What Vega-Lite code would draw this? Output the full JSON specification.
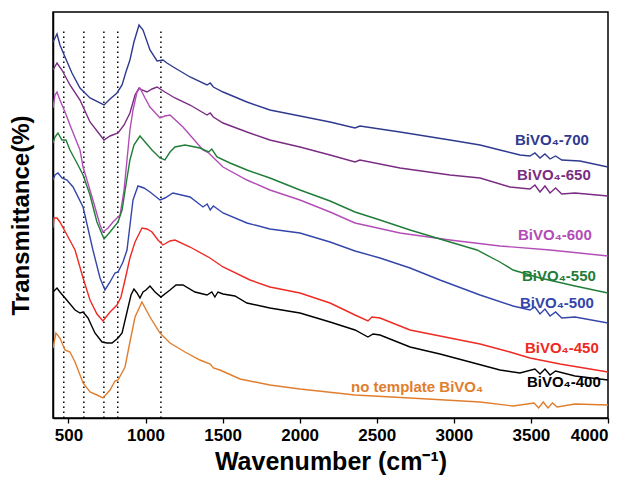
{
  "$schema": "https://vega.github.io/schema/vega-lite/v6.json",
  "width": 555,
  "height": 406,
  "autosize": {"type": "none"},
  "padding": {"left": 53, "top": 12, "right": 22, "bottom": 68},
  "background": "white",
  "config": {
    "view": {"stroke": "black", "strokeWidth": 1.5},
    "font": "Liberation Sans"
  },
  "datasets": {
    "spectra": [
      {"s":"700","x":400,"y":376},{"s":"700","x":426,"y":384},{"s":"700","x":445,"y":373},{"s":"700","x":478,"y":361},{"s":"700","x":523,"y":345},{"s":"700","x":575,"y":330},{"s":"700","x":640,"y":320},{"s":"700","x":731,"y":313},{"s":"700","x":770,"y":319},{"s":"700","x":815,"y":325},{"s":"700","x":848,"y":333},{"s":"700","x":873,"y":346},{"s":"700","x":899,"y":358},{"s":"700","x":925,"y":376},{"s":"700","x":958,"y":393},{"s":"700","x":984,"y":388},{"s":"700","x":1029,"y":368},{"s":"700","x":1075,"y":357},{"s":"700","x":1113,"y":358},{"s":"700","x":1139,"y":355},{"s":"700","x":1191,"y":350},{"s":"700","x":1289,"y":341},{"s":"700","x":1399,"y":333},{"s":"700","x":1420,"y":335},{"s":"700","x":1440,"y":331},{"s":"700","x":1503,"y":326},{"s":"700","x":1658,"y":316},{"s":"700","x":1807,"y":308},{"s":"700","x":2002,"y":302},{"s":"700","x":2197,"y":296},{"s":"700","x":2359,"y":290},{"s":"700","x":2391,"y":292},{"s":"700","x":2651,"y":286},{"s":"700","x":2975,"y":278},{"s":"700","x":3170,"y":273},{"s":"700","x":3299,"y":268},{"s":"700","x":3429,"y":263},{"s":"700","x":3494,"y":262},{"s":"700","x":3526,"y":265},{"s":"700","x":3559,"y":260},{"s":"700","x":3591,"y":264},{"s":"700","x":3624,"y":259},{"s":"700","x":3660,"y":262},{"s":"700","x":3700,"y":258},{"s":"700","x":3818,"y":257},{"s":"700","x":4000,"y":251},

      {"s":"650","x":400,"y":348},{"s":"650","x":426,"y":355},{"s":"650","x":458,"y":348},{"s":"650","x":510,"y":333},{"s":"650","x":575,"y":318},{"s":"650","x":640,"y":296},{"s":"650","x":731,"y":278},{"s":"650","x":770,"y":282},{"s":"650","x":822,"y":285},{"s":"650","x":861,"y":293},{"s":"650","x":899,"y":305},{"s":"650","x":932,"y":323},{"s":"650","x":958,"y":330},{"s":"650","x":977,"y":328},{"s":"650","x":1010,"y":326},{"s":"650","x":1042,"y":329},{"s":"650","x":1075,"y":331},{"s":"650","x":1126,"y":326},{"s":"650","x":1191,"y":320},{"s":"650","x":1289,"y":313},{"s":"650","x":1399,"y":303},{"s":"650","x":1420,"y":305},{"s":"650","x":1440,"y":301},{"s":"650","x":1503,"y":295},{"s":"650","x":1658,"y":286},{"s":"650","x":1807,"y":278},{"s":"650","x":2002,"y":271},{"s":"650","x":2197,"y":263},{"s":"650","x":2359,"y":256},{"s":"650","x":2391,"y":258},{"s":"650","x":2651,"y":250},{"s":"650","x":2975,"y":243},{"s":"650","x":3170,"y":240},{"s":"650","x":3364,"y":231},{"s":"650","x":3494,"y":229},{"s":"650","x":3526,"y":233},{"s":"650","x":3559,"y":226},{"s":"650","x":3591,"y":232},{"s":"650","x":3624,"y":225},{"s":"650","x":3660,"y":230},{"s":"650","x":3700,"y":224},{"s":"650","x":3786,"y":225},{"s":"650","x":4000,"y":222},

      {"s":"600","x":400,"y":310},{"s":"600","x":413,"y":323},{"s":"600","x":426,"y":326},{"s":"600","x":445,"y":318},{"s":"600","x":478,"y":306},{"s":"600","x":510,"y":293},{"s":"600","x":575,"y":268},{"s":"600","x":595,"y":251},{"s":"600","x":659,"y":218},{"s":"600","x":705,"y":193},{"s":"600","x":724,"y":186},{"s":"600","x":757,"y":190},{"s":"600","x":789,"y":196},{"s":"600","x":822,"y":201},{"s":"600","x":835,"y":203},{"s":"600","x":861,"y":228},{"s":"600","x":880,"y":258},{"s":"600","x":899,"y":288},{"s":"600","x":919,"y":308},{"s":"600","x":945,"y":326},{"s":"600","x":964,"y":330},{"s":"600","x":997,"y":320},{"s":"600","x":1029,"y":311},{"s":"600","x":1094,"y":300},{"s":"600","x":1126,"y":302},{"s":"600","x":1159,"y":303},{"s":"600","x":1243,"y":291},{"s":"600","x":1373,"y":268},{"s":"600","x":1410,"y":265},{"s":"600","x":1430,"y":262},{"s":"600","x":1503,"y":251},{"s":"600","x":1658,"y":238},{"s":"600","x":1807,"y":228},{"s":"600","x":2002,"y":218},{"s":"600","x":2197,"y":206},{"s":"600","x":2359,"y":195},{"s":"600","x":2651,"y":185},{"s":"600","x":2975,"y":178},{"s":"600","x":3299,"y":172},{"s":"600","x":3624,"y":168},{"s":"600","x":4000,"y":162},

      {"s":"550","x":400,"y":275},{"s":"550","x":413,"y":281},{"s":"550","x":432,"y":285},{"s":"550","x":458,"y":278},{"s":"550","x":484,"y":278},{"s":"550","x":510,"y":268},{"s":"550","x":562,"y":253},{"s":"550","x":595,"y":243},{"s":"550","x":640,"y":223},{"s":"550","x":685,"y":196},{"s":"550","x":731,"y":179},{"s":"550","x":770,"y":186},{"s":"550","x":822,"y":196},{"s":"550","x":848,"y":208},{"s":"550","x":873,"y":233},{"s":"550","x":899,"y":258},{"s":"550","x":925,"y":273},{"s":"550","x":964,"y":282},{"s":"550","x":1003,"y":275},{"s":"550","x":1042,"y":268},{"s":"550","x":1094,"y":260},{"s":"550","x":1126,"y":258},{"s":"550","x":1159,"y":266},{"s":"550","x":1191,"y":271},{"s":"550","x":1256,"y":273},{"s":"550","x":1353,"y":270},{"s":"550","x":1410,"y":266},{"s":"550","x":1430,"y":269},{"s":"550","x":1464,"y":261},{"s":"550","x":1548,"y":255},{"s":"550","x":1658,"y":248},{"s":"550","x":1807,"y":240},{"s":"550","x":2002,"y":228},{"s":"550","x":2197,"y":217},{"s":"550","x":2359,"y":206},{"s":"550","x":2521,"y":198},{"s":"550","x":2716,"y":188},{"s":"550","x":2975,"y":176},{"s":"550","x":3150,"y":168},{"s":"550","x":3299,"y":156},{"s":"550","x":3384,"y":148},{"s":"550","x":3559,"y":140},{"s":"550","x":3786,"y":132},{"s":"550","x":4000,"y":125},

      {"s":"500","x":400,"y":238},{"s":"500","x":413,"y":243},{"s":"500","x":432,"y":245},{"s":"500","x":458,"y":240},{"s":"500","x":491,"y":238},{"s":"500","x":530,"y":231},{"s":"500","x":595,"y":211},{"s":"500","x":659,"y":168},{"s":"500","x":705,"y":140},{"s":"500","x":737,"y":128},{"s":"500","x":770,"y":136},{"s":"500","x":802,"y":145},{"s":"500","x":822,"y":146},{"s":"500","x":854,"y":156},{"s":"500","x":880,"y":168},{"s":"500","x":919,"y":218},{"s":"500","x":951,"y":232},{"s":"500","x":990,"y":230},{"s":"500","x":1029,"y":226},{"s":"500","x":1094,"y":218},{"s":"500","x":1126,"y":220},{"s":"500","x":1178,"y":225},{"s":"500","x":1289,"y":221},{"s":"500","x":1373,"y":211},{"s":"500","x":1400,"y":214},{"s":"500","x":1420,"y":208},{"s":"500","x":1440,"y":212},{"s":"500","x":1503,"y":205},{"s":"500","x":1658,"y":195},{"s":"500","x":1807,"y":189},{"s":"500","x":2002,"y":185},{"s":"500","x":2197,"y":176},{"s":"500","x":2359,"y":167},{"s":"500","x":2521,"y":160},{"s":"500","x":2716,"y":150},{"s":"500","x":2910,"y":138},{"s":"500","x":3170,"y":123},{"s":"500","x":3384,"y":112},{"s":"500","x":3494,"y":108},{"s":"500","x":3526,"y":111},{"s":"500","x":3559,"y":104},{"s":"500","x":3591,"y":109},{"s":"500","x":3624,"y":102},{"s":"500","x":3660,"y":106},{"s":"500","x":3700,"y":100},{"s":"500","x":3786,"y":101},{"s":"500","x":4000,"y":95},

      {"s":"450","x":400,"y":190},{"s":"450","x":406,"y":200},{"s":"450","x":426,"y":200},{"s":"450","x":445,"y":196},{"s":"450","x":491,"y":183},{"s":"450","x":543,"y":168},{"s":"450","x":595,"y":140},{"s":"450","x":640,"y":118},{"s":"450","x":685,"y":104},{"s":"450","x":724,"y":97},{"s":"450","x":770,"y":106},{"s":"450","x":815,"y":113},{"s":"450","x":841,"y":121},{"s":"450","x":867,"y":138},{"s":"450","x":899,"y":160},{"s":"450","x":932,"y":176},{"s":"450","x":977,"y":190},{"s":"450","x":1010,"y":189},{"s":"450","x":1042,"y":186},{"s":"450","x":1081,"y":178},{"s":"450","x":1113,"y":173},{"s":"450","x":1159,"y":177},{"s":"450","x":1191,"y":178},{"s":"450","x":1289,"y":171},{"s":"450","x":1418,"y":160},{"s":"450","x":1503,"y":151},{"s":"450","x":1678,"y":138},{"s":"450","x":1807,"y":131},{"s":"450","x":2002,"y":125},{"s":"450","x":2197,"y":115},{"s":"450","x":2359,"y":103},{"s":"450","x":2443,"y":97},{"s":"450","x":2469,"y":101},{"s":"450","x":2521,"y":100},{"s":"450","x":2716,"y":88},{"s":"450","x":2975,"y":80},{"s":"450","x":3170,"y":74},{"s":"450","x":3364,"y":66},{"s":"450","x":3494,"y":60},{"s":"450","x":3689,"y":54},{"s":"450","x":4000,"y":46},

      {"s":"400","x":400,"y":126},{"s":"400","x":426,"y":130},{"s":"400","x":445,"y":126},{"s":"400","x":478,"y":120},{"s":"400","x":543,"y":108},{"s":"400","x":575,"y":105},{"s":"400","x":595,"y":106},{"s":"400","x":627,"y":100},{"s":"400","x":672,"y":85},{"s":"400","x":718,"y":76},{"s":"400","x":750,"y":75},{"s":"400","x":783,"y":75},{"s":"400","x":822,"y":80},{"s":"400","x":848,"y":85},{"s":"400","x":880,"y":106},{"s":"400","x":906,"y":123},{"s":"400","x":925,"y":129},{"s":"400","x":945,"y":125},{"s":"400","x":964,"y":120},{"s":"400","x":984,"y":126},{"s":"400","x":1003,"y":128},{"s":"400","x":1029,"y":132},{"s":"400","x":1062,"y":126},{"s":"400","x":1100,"y":121},{"s":"400","x":1159,"y":128},{"s":"400","x":1198,"y":133},{"s":"400","x":1243,"y":133},{"s":"400","x":1321,"y":126},{"s":"400","x":1399,"y":123},{"s":"400","x":1430,"y":126},{"s":"400","x":1450,"y":121},{"s":"400","x":1470,"y":126},{"s":"400","x":1503,"y":124},{"s":"400","x":1580,"y":122},{"s":"400","x":1658,"y":115},{"s":"400","x":1807,"y":110},{"s":"400","x":2002,"y":105},{"s":"400","x":2197,"y":96},{"s":"400","x":2359,"y":88},{"s":"400","x":2443,"y":81},{"s":"400","x":2476,"y":84},{"s":"400","x":2521,"y":83},{"s":"400","x":2716,"y":71},{"s":"400","x":2910,"y":64},{"s":"400","x":3105,"y":56},{"s":"400","x":3299,"y":48},{"s":"400","x":3429,"y":45},{"s":"400","x":3526,"y":49},{"s":"400","x":3559,"y":44},{"s":"400","x":3591,"y":49},{"s":"400","x":3624,"y":43},{"s":"400","x":3660,"y":47},{"s":"400","x":3786,"y":42},{"s":"400","x":4000,"y":38},

      {"s":"none","x":400,"y":70},{"s":"none","x":419,"y":85},{"s":"none","x":445,"y":80},{"s":"none","x":478,"y":68},{"s":"none","x":510,"y":66},{"s":"none","x":543,"y":56},{"s":"none","x":595,"y":35},{"s":"none","x":640,"y":26},{"s":"none","x":685,"y":23},{"s":"none","x":724,"y":20},{"s":"none","x":770,"y":28},{"s":"none","x":802,"y":37},{"s":"none","x":822,"y":38},{"s":"none","x":867,"y":51},{"s":"none","x":899,"y":76},{"s":"none","x":932,"y":101},{"s":"none","x":977,"y":116},{"s":"none","x":1029,"y":101},{"s":"none","x":1094,"y":85},{"s":"none","x":1159,"y":75},{"s":"none","x":1256,"y":66},{"s":"none","x":1353,"y":58},{"s":"none","x":1420,"y":54},{"s":"none","x":1440,"y":50},{"s":"none","x":1483,"y":48},{"s":"none","x":1613,"y":39},{"s":"none","x":1807,"y":33},{"s":"none","x":2002,"y":29},{"s":"none","x":2359,"y":23},{"s":"none","x":2716,"y":20},{"s":"none","x":3170,"y":16},{"s":"none","x":3384,"y":12},{"s":"none","x":3520,"y":15},{"s":"none","x":3550,"y":10},{"s":"none","x":3580,"y":16},{"s":"none","x":3610,"y":10},{"s":"none","x":3640,"y":15},{"s":"none","x":3670,"y":11},{"s":"none","x":3786,"y":14},{"s":"none","x":4000,"y":13}
    ],
    "marks": [{"x":470},{"x":600},{"x":730},{"x":820},{"x":1100}],
    "labels": [
      {"s":"700","t":"BiVO₄-700","x":3397,"y":278},
      {"s":"650","t":"BiVO₄-650","x":3409,"y":243},
      {"s":"600","t":"BiVO₄-600","x":3416,"y":183},
      {"s":"550","t":"BiVO₄-550","x":3442,"y":142},
      {"s":"500","t":"BiVO₄-500","x":3429,"y":115},
      {"s":"450","t":"BiVO₄-450","x":3461,"y":70},
      {"s":"400","t":"BiVO₄-400","x":3474,"y":36},
      {"s":"none","t":"no template BiVO₄","x":2333,"y":31}
    ]
  },
  "layer": [
    {
      "data": {"name": "marks"},
      "mark": {"type": "rule", "color": "black", "strokeDash": [1.5, 3.5], "strokeWidth": 1.5},
      "encoding": {
        "x": {"field": "x", "type": "quantitative", "scale": {"domain": [400, 4000], "nice": false, "zero": false}},
        "y": {"datum": 0, "type": "quantitative"},
        "y2": {"datum": 390}
      }
    },
    {
      "data": {"name": "spectra"},
      "mark": {"type": "line", "strokeWidth": 1.4, "clip": true},
      "encoding": {
        "x": {
          "field": "x", "type": "quantitative",
          "scale": {"domain": [400, 4000], "nice": false, "zero": false},
          "axis": {
            "title": "Wavenumber (cm⁻¹)",
            "titleFontSize": 25, "titleFontWeight": "bold", "titleColor": "black", "titlePadding": 6,
            "values": [500, 750, 1000, 1250, 1500, 1750, 2000, 2250, 2500, 2750, 3000, 3250, 3500, 3750, 4000],
            "labelExpr": "datum.value % 500 === 0 ? datum.value : ''",
            "labelFontSize": 17, "labelFontWeight": "bold", "labelColor": "black", "labelPadding": 4,
            "labelOverlap": false,
            "tickColor": "black", "tickSize": 5, "tickWidth": 1.3,
            "domainColor": "black", "domainWidth": 1.5, "grid": false
          }
        },
        "y": {
          "field": "y", "type": "quantitative",
          "scale": {"domain": [0, 406], "nice": false, "zero": false},
          "axis": {
            "title": "Transmittance(%)",
            "titleFontSize": 24, "titleFontWeight": "bold", "titleColor": "black", "titlePadding": 20,
            "labels": false, "ticks": false, "grid": false,
            "domainColor": "black", "domainWidth": 1.5
          }
        },
        "color": {
          "field": "s", "type": "nominal", "legend": null,
          "scale": {
            "domain": ["700", "650", "600", "550", "500", "450", "400", "none"],
            "range": ["#2F3A8F", "#7A2C82", "#B24DB6", "#1F7D37", "#3446AA", "#EE2A22", "#000000", "#E07E2E"]
          }
        },
        "detail": {"field": "s"}
      }
    },
    {
      "data": {"name": "labels"},
      "mark": {"type": "text", "align": "left", "baseline": "middle", "fontSize": 15, "fontWeight": "bold", "font": "Liberation Sans"},
      "encoding": {
        "x": {"field": "x", "type": "quantitative"},
        "y": {"field": "y", "type": "quantitative"},
        "text": {"field": "t"},
        "color": {"field": "s", "type": "nominal", "legend": null}
      }
    }
  ]
}
